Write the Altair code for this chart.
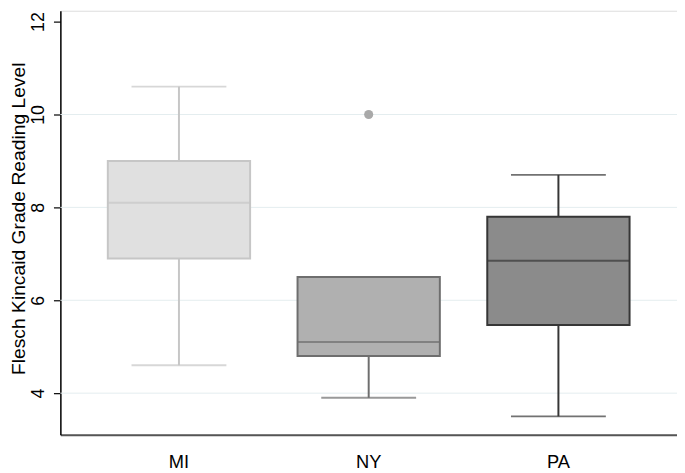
import altair as alt
import pandas as pd

states = ["MI", "NY", "PA"]
lower = [4.6, 3.9, 3.5]
q1 = [6.9, 4.8, 5.47]
median = [8.1, 5.1, 6.85]
q3 = [9.0, 6.5, 7.8]
upper = [10.6, 6.5, 8.7]
outlier_state = ["NY"]
outlier_value = [10.0]
grid_values = [4, 6, 8, 10]
y_ticks = [4, 6, 8, 10, 12]

fills = ["#e0e0e0", "#b0b0b0", "#8b8b8b"]
strokes = ["#c6c6c6", "#6e6e6e", "#363636"]

df = pd.DataFrame({"state": states, "lower": lower, "q1": q1, "median": median,
                   "q3": q3, "upper": upper})
out_df = pd.DataFrame({"state": outlier_state, "value": outlier_value})
grid_df = pd.DataFrame({"g": grid_values})

FONT = "Liberation Sans"
TITLE = "Flesch Kincaid Grade Reading Level"
H = 429
W = 624

yscale = alt.Scale(domain=[3.106, 12.234], nice=False, zero=False)
xscale = alt.Scale(domain=states, paddingInner=0, paddingOuter=0.125)

yaxis = alt.Axis(values=y_ticks, grid=False, domainColor="#000000", domainWidth=1.5,
                 tickColor="#000000", tickSize=7, tickWidth=1.2,
                 labelAngle=270, labelAlign="center", labelBaseline="bottom",
                 labelPadding=6, labelFont=FONT, labelFontSize=18, labelColor="#000000",
                 title=TITLE, titleFont=FONT, titleFontSize=19.5, titleFontWeight="normal",
                 titleColor="#000000", titleAngle=270, titleAlign="center",
                 titleBaseline="top", titleX=-51, titleY=210)
xaxis = alt.Axis(title=None, grid=False, ticks=False, domainColor="#555555", domainWidth=2,
                 labelAngle=0, labelFont=FONT, labelFontSize=18.5, labelColor="#000000",
                 labelPadding=18)

x_enc = alt.X("state:N", scale=xscale, axis=xaxis, sort=states)
fill_enc = alt.Color("state:N", scale=alt.Scale(domain=states, range=fills), legend=None)
stroke_enc = alt.Stroke("state:N", scale=alt.Scale(domain=states, range=strokes), legend=None)

grid = alt.Chart(grid_df).mark_rule(color="#e4edef", strokeWidth=1).encode(
    y=alt.Y("g:Q", scale=yscale, axis=yaxis, title=TITLE)
)

whisk_lo = alt.Chart(df).mark_rule(strokeWidth=2).encode(
    x=x_enc, y=alt.Y("lower:Q", scale=yscale, axis=yaxis, title=TITLE), y2="q1:Q",
    color=stroke_enc
)
whisk_hi = alt.Chart(df).mark_rule(strokeWidth=2).encode(
    x=x_enc, y=alt.Y("q3:Q", scale=yscale, axis=yaxis, title=TITLE), y2="upper:Q",
    color=stroke_enc
)
cap_lo = alt.Chart(df).mark_tick(size=96, thickness=2).encode(
    x=x_enc, y=alt.Y("lower:Q", scale=yscale, axis=yaxis, title=TITLE), color=stroke_enc
)
cap_hi = alt.Chart(df).mark_tick(size=96, thickness=2).encode(
    x=x_enc, y=alt.Y("upper:Q", scale=yscale, axis=yaxis, title=TITLE), color=stroke_enc
)
box = alt.Chart(df).mark_bar(size=144, strokeWidth=2, opacity=1).encode(
    x=x_enc, y=alt.Y("q1:Q", scale=yscale, axis=yaxis, title=TITLE), y2="q3:Q",
    fill=fill_enc, stroke=stroke_enc
)
med = alt.Chart(df).mark_tick(size=144, thickness=2).encode(
    x=x_enc, y=alt.Y("median:Q", scale=yscale, axis=yaxis, title=TITLE), color=stroke_enc
)
outl = alt.Chart(out_df).mark_point(filled=True, size=85, color="#a9a9a9", opacity=1).encode(
    x=x_enc, y=alt.Y("value:Q", scale=yscale, axis=yaxis, title=TITLE)
)

chart = alt.layer(grid, whisk_lo, whisk_hi, cap_lo, cap_hi, box, med, outl).resolve_scale(
    color="independent"
).properties(
    width=W, height=H,
    autosize=alt.AutoSizeParams(type="none"),
    padding={"left": 53, "top": 0, "right": 0, "bottom": 36},
).configure_view(strokeWidth=0, stroke="transparent").configure(background="white")

chart.save("out.html", embed_options={"renderer": "svg", "actions": False})
